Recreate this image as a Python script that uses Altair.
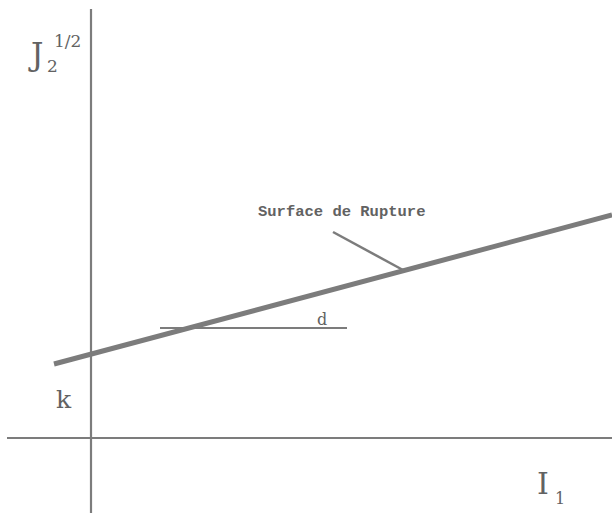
import altair as alt
import pandas as pd

# Coordinate frame (I1 horizontal, sqrt(J2) vertical), origin at the axes crossing
x_domain = [-0.91, 5.21]
y_domain = [-0.75, 4.38]

# Straight segments: axes, failure surface, leader line, angle reference line
seg_name = ["axis_J", "axis_I", "surface", "leader", "angle_ref"]
seg_x1 = [0.0, -0.84, -0.37, 2.42, 0.69]
seg_y1 = [-0.75, 0.0, 0.74, 2.06, 1.10]
seg_x2 = [0.0, 5.21, 5.21, 3.12, 2.56]
seg_y2 = [4.29, 0.0, 2.23, 1.68, 1.10]
seg_width = [2.2, 2.2, 5.0, 2.5, 2.2]

# Text labels
lab_text = ["Surface de Rupture", "d", "k", "J", "2", "1/2", "I", "1"]
lab_x = [1.67, 2.26, -0.35, -0.60, -0.44, -0.37, 4.46, 4.64]
lab_y = [2.22, 1.13, 0.30, 3.73, 3.66, 3.91, -0.56, -0.66]
lab_size = [15.5, 16, 25, 31, 17, 17, 30, 16]
lab_font = ["Liberation Mono", "DejaVu Serif", "DejaVu Serif", "DejaVu Serif",
            "DejaVu Serif", "DejaVu Serif", "DejaVu Serif", "DejaVu Serif"]
lab_weight = ["bold", "normal", "normal", "normal", "normal", "normal", "normal", "normal"]

segs = pd.DataFrame({"name": seg_name, "x1": seg_x1, "y1": seg_y1,
                     "x2": seg_x2, "y2": seg_y2, "w": seg_width})
labs = pd.DataFrame({"text": lab_text, "x": lab_x, "y": lab_y, "size": lab_size,
                     "font": lab_font, "weight": lab_weight})

xs = alt.Scale(domain=x_domain, nice=False, zero=False)
ys = alt.Scale(domain=y_domain, nice=False, zero=False)

lines = alt.Chart(segs).mark_rule(color="#7c7c7c", strokeCap="butt").encode(
    x=alt.X("x1:Q", scale=xs, axis=None),
    y=alt.Y("y1:Q", scale=ys, axis=None),
    x2="x2:Q",
    y2="y2:Q",
    strokeWidth=alt.StrokeWidth("w:Q", scale=None, legend=None),
)


def label_layer(font, weight):
    sub = labs[(labs["font"] == font) & (labs["weight"] == weight)]
    return alt.Chart(sub).mark_text(
        align="left", baseline="alphabetic", font=font, fontWeight=weight, color="#626262"
    ).encode(
        x=alt.X("x:Q", scale=xs, axis=None),
        y=alt.Y("y:Q", scale=ys, axis=None),
        text="text:N",
        size=alt.Size("size:Q", scale=None, legend=None),
    )


chart = (
    alt.layer(lines,
              label_layer("Liberation Mono", "bold"),
              label_layer("DejaVu Serif", "normal"))
    .properties(width=612, height=513, padding=0, autosize=alt.AutoSizeParams(type="none"),
                background="white")
    .configure_view(stroke=None)
)

chart.save("out.html", embed_options={"renderer": "svg", "actions": False})
